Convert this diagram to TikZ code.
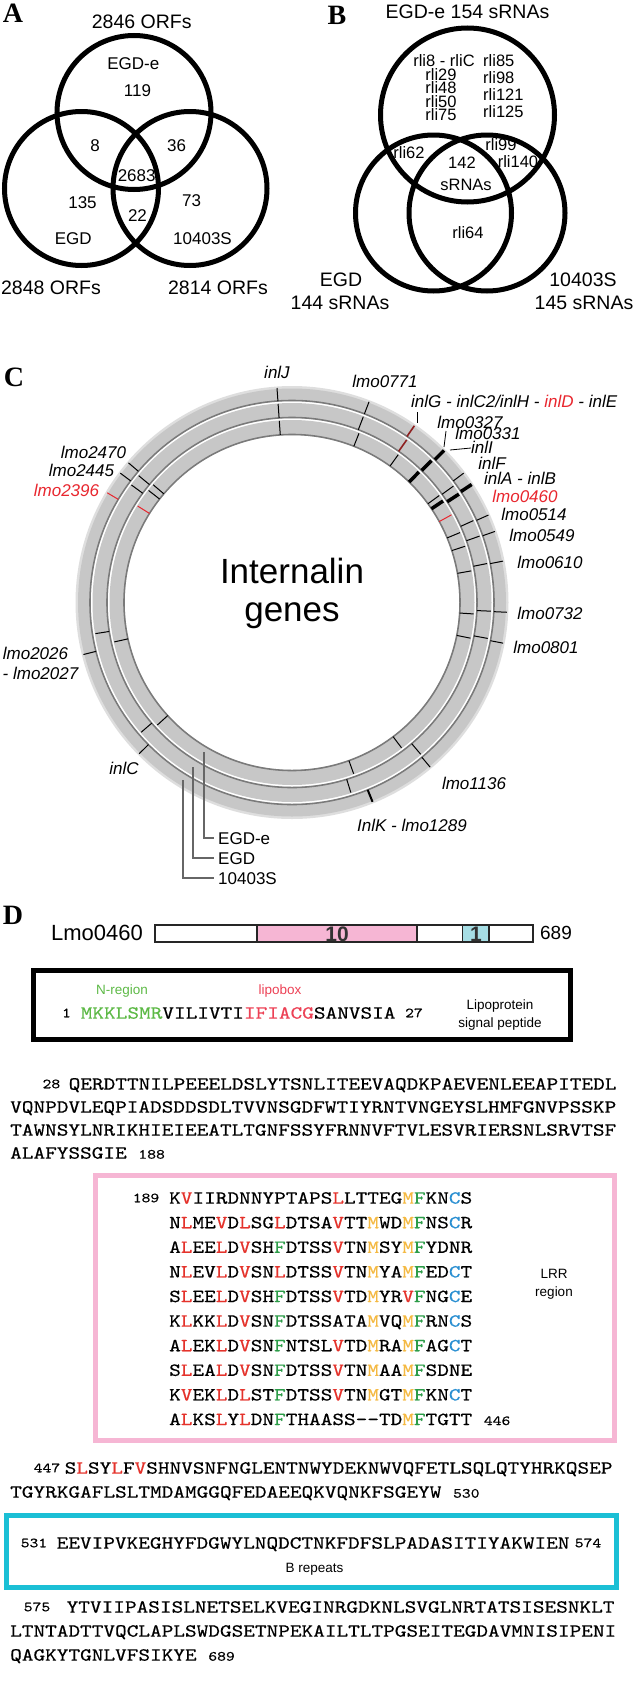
\documentclass[tikz,border=0pt]{standalone}
\usepackage{fontspec}
\setmainfont{Liberation Sans}
\newfontfamily\panelfont{Liberation Serif}
\newfontfamily\seqfont{lmmono10-regular.otf}[FakeStretch=1.2,FakeBold=0.5]
\usetikzlibrary{calc}

\definecolor{nreg}{HTML}{5DB946}
\definecolor{lipo}{HTML}{EC4155}
\definecolor{lrrred}{HTML}{E4322B}
\definecolor{lrryel}{HTML}{F4B942}
\definecolor{lrrgrn}{HTML}{2C9C48}
\definecolor{lrrblu}{HTML}{2A8FD1}
\definecolor{lrrpink}{HTML}{F6B6D4}
\definecolor{brcyan}{HTML}{1BBFD5}
\definecolor{barcyan}{HTML}{A6DEE5}
\definecolor{genered}{HTML}{E8262E}
\definecolor{tickred}{HTML}{8E2020}

\newcommand\smallnum{\fontsize{14}{16}\selectfont}
\newcommand\resR[1]{\textcolor{lrrred}{#1}}
\newcommand\resM[1]{\textcolor{lrryel}{#1}}
\newcommand\resF[1]{\textcolor{lrrgrn}{#1}}
\newcommand\resC[1]{\textcolor{lrrblu}{#1}}

\tikzset{
  venn/.style={line width=5pt},
  panel/.style={inner sep=0pt,font=\panelfont\bfseries\fontsize{28}{30}\selectfont},
  lab/.style={inner sep=0pt,font=\fontsize{17}{20}\selectfont,text height=12.2pt,text depth=0pt},
  rli/.style={inner sep=0pt,font=\fontsize{16.5}{18}\selectfont,text height=11.8pt,text depth=0pt},
  ttl/.style={inner sep=0pt,font=\fontsize{19.5}{22}\selectfont,text height=14pt,text depth=0pt},
  gene/.style={inner sep=0pt,font=\itshape\fontsize{17}{20}\selectfont,text height=12.2pt,text depth=0pt},
  note/.style={inner sep=0pt,font=\fontsize{13.5}{16}\selectfont,text height=9.7pt,text depth=0pt},
  seq/.style={inner sep=0pt,anchor=west,font=\seqfont\fontsize{18.5}{20}\selectfont,text height=11.3pt,text depth=0pt},
  num/.style={inner sep=0pt,font=\seqfont\smallnum,text height=8.5pt,text depth=0pt},
  ringhalo/.style={fill=black!13},
  ringband/.style={fill=black!22},
  ringline/.style={draw=black!52,line width=1.6pt},
  tick/.style={black,line width=1pt},
  thicktick/.style={black,line width=3.5pt},
  pointer/.style={black,line width=0.8pt},
  leader/.style={draw=black!60,line width=1.6pt,shorten >=4pt},
}

\begin{document}
\begin{tikzpicture}[x=1pt,y=-1pt]
\useasboundingbox (0,0) rectangle (632,1681);

% A: ORFs
\node[panel] (pA) at (13,13) {A};
\foreach \cx/\cy in {134/112.5,81.5/188.5,190/188.5} \draw[venn] (\cx,\cy) circle[radius=77];
\node[ttl] (orfTop) at (141.7,21) {2846 ORFs};
\node[ttl] (orfLeft) at (51,287) {2848 ORFs};
\node[ttl] (orfRight) at (218,287) {2814 ORFs};
\node[lab] (aEGDe) at (133.3,63) {EGD-e};
\node[lab] (a119) at (137.5,90) {119};
\node[lab] (a8) at (95,145) {8};
\node[lab] (a36) at (176.7,145) {36};
\node[lab] (a2683) at (136.7,175) {2683};
\node[lab] (a135) at (82.5,202.5) {135};
\node[lab] (a22) at (137.5,215) {22};
\node[lab] (a73) at (191.7,200) {73};
\node[lab] (aEGD) at (73.3,238) {EGD};
\node[lab] (a10403S) at (202.5,238) {10403S};

% B: sRNAs
\node[panel] (pB) at (337,15) {B};
\draw[venn] (467.5,115) circle[radius=87];
\foreach \cx in {433.5,487} \draw[venn] (\cx,213) circle[radius=78];
\node[ttl] (srnaTop) at (467.5,12) {EGD-e 154 sRNAs};
\node[ttl] (srnaLeftA) at (341,279) {EGD};
\node[ttl] (srnaLeftB) at (340,302) {144 sRNAs};
\node[ttl] (srnaRightA) at (583,279) {10403S};
\node[ttl] (srnaRightB) at (584,302) {145 sRNAs};
\node[rli] (b8C) at (444,61) {rli8 - rliC};
\foreach \t/\y [count=\k] in {rli29/74.5,rli48/88,rli50/101.5,rli75/115}
  \node[rli] (bl\k) at (441,\y) {\t};
\foreach \t/\y [count=\k] in {rli85/61,rli98/78,rli121/95,rli125/112}
  \node[rli,anchor=west] (br\k) at (483,\y) {\t};
\node[rli] (b62) at (409,153) {rli62};
\node[rli] (b99) at (501,145) {rli99};
\node[rli] (b140) at (518,162) {rli140};
\node[rli] (b142) at (462,163) {142};
\node[rli] (bsrna) at (466,185) {sRNAs};
\node[rli] (b64) at (468,233) {rli64};

% C: internalin genes on the three genomes
\node[panel] (pC) at (14,377) {C};
\begin{scope}[shift={(292,602.5)},yscale=-1]
\fill[ringhalo] (0,0) circle[radius=216.5];
\fill[ringband] (0,0) circle[radius=214];
\foreach \r in {202,185} {
  \draw[ringline] (0,0) circle[radius=\r];
  \fill[white] (0,0) circle[radius=\r-1];
  \fill[ringband] (0,0) circle[radius=\r-2.5];
}
\draw[ringline] (0,0) circle[radius=168];
\fill[white] (0,0) circle[radius=167];
% 10403S
\foreach \a in {94,69,37,24,19.3,11.1,-2.6,-10.9,-50,-135.3,-166,139.5,143}
  \draw[tick] (\a:202) -- (\a:215);
\foreach \a in {45,33.3} \draw[thicktick] (\a:202) -- (\a:215);
\draw[black,line width=2pt] (-68:202) -- (-68:215);
\draw[tickred,line width=1.6pt] (55.3:202) -- (55.3:215);
\draw[genered,line width=1pt] (149.3:202) -- (149.3:215);
% EGD
\foreach \a in {94,69,35.8,24.3,19.5,11.3,-2.5,-10.4,-49.7,-72.8,-139.3,-171,140.4,143.8}
  \draw[tick] (\a:185) -- (\a:199);
\foreach \a in {45.5,33} \draw[thicktick] (\a:185) -- (\a:199);
\draw[tickred,line width=1.6pt] (54.8:185) -- (54.8:199);
% EGD-e
\foreach \a in {94,68.4,54.3,36,22.6,18,10,-3.6,-11.3,-53,-70.2,-137.7,-167.5,139.7,142}
  \draw[tick] (\a:168) -- (\a:182);
\foreach \a in {45.8,33.9} \draw[thicktick] (\a:168) -- (\a:182);
\foreach \a in {28.8,148} \draw[genered,line width=1pt] (\a:168) -- (\a:182);
\end{scope}
\node[inner sep=0pt,font=\fontsize{35}{40}\selectfont,anchor=base] (intA) at (292,583) {Internalin};
\node[inner sep=0pt,font=\fontsize{35}{40}\selectfont,anchor=base] (intB) at (292,621) {genes};

\node[gene] (gInlJ) at (277,372) {inlJ};
\node[gene] (g0771) at (385,381) {lmo0771};
\node[gene,anchor=west] (gInlG) at (411,401) {inlG - inlC2/inlH - \textcolor{genered}{inlD} - inlE};
\node[gene] (g0327) at (470,422) {lmo0327};
\node[gene] (g0331) at (488,433) {lmo0331};
\node[gene] (gInlI) at (482,447) {inlI};
\node[gene] (gInlF) at (492,463) {inlF};
\node[gene] (gInlAB) at (520,478) {inlA - inlB};
\node[gene,text=genered] (g0460) at (525,496) {lmo0460};
\node[gene] (g0514) at (534,514) {lmo0514};
\node[gene] (g0549) at (542,535) {lmo0549};
\node[gene] (g0610) at (550,562) {lmo0610};
\node[gene] (g0732) at (550,613) {lmo0732};
\node[gene] (g0801) at (546,647) {lmo0801};
\node[gene] (g1136) at (474,783) {lmo1136};
\node[gene] (gInlK) at (412,825) {InlK - lmo1289};
\node[gene] (gInlC) at (124,768) {inlC};
\node[gene] (g2026) at (35.5,653) {lmo2026};
\node[gene] (g2027) at (40.5,673) {- lmo2027};
\node[gene] (g2470) at (93.5,452) {lmo2470};
\node[gene] (g2445) at (81.5,470) {lmo2445};
\node[gene,text=genered] (g2396) at (66.5,490) {lmo2396};

\coordinate (ptGa) at (417,412);
\coordinate (ptGb) at (417,423);
\draw[pointer] (ptGa) -- (ptGb);
\coordinate (pt27a) at (446,431);
\coordinate (pt27b) at (444,447);
\draw[pointer] (pt27a) -- (pt27b);
\coordinate (ptIa) at (471,448);
\coordinate (ptIb) at (450,450);
\draw[pointer] (ptIa) -- (ptIb);

\coordinate (tipEGDe) at (204,752);
\coordinate (tipEGD) at (193,767);
\coordinate (tip10403S) at (183,780);
\node[lab,anchor=west] (legEGDe) at (218,838) {EGD-e};
\node[lab,anchor=west] (legEGD) at (218,858) {EGD};
\node[lab,anchor=west] (leg10403S) at (218,878) {10403S};
\draw[leader] (tipEGDe) |- (legEGDe.west);
\draw[leader] (tipEGD) |- (legEGD.west);
\draw[leader] (tip10403S) |- (leg10403S.west);

% D: Lmo0460
\node[panel] (pD) at (13,915) {D};
\node[inner sep=0pt,font=\fontsize{22}{24}\selectfont] (lmo) at (97,933) {Lmo0460};
\fill[lrrpink] (257,925) rectangle (417,942);
\fill[barcyan] (462.5,925) rectangle (489,942);
\draw[line width=1.1pt,black!85] (155,925) rectangle (533,942);
\foreach \xd in {257,417,462.5,489} \draw[line width=1.1pt,black!85] (\xd,925) -- (\xd,942);
\node[inner sep=0pt,font=\bfseries\fontsize{21}{22}\selectfont,text=black!80] (lrrN) at (337,934) {10};
\node[inner sep=0pt,font=\bfseries\fontsize{21}{22}\selectfont,text=black!80] (brN) at (476,934) {1};
\node[inner sep=0pt,font=\fontsize{19}{22}\selectfont] (lenD) at (556,933) {689};

% signal peptide
\draw[line width=5pt] (33.5,970.5) rectangle (570.5,1039.5);
\node[note,text=nreg] (nreg) at (122,990) {N-region};
\node[note,text=lipo] (lbox) at (280,990) {lipobox};
\node[num] (s1) at (66.5,1013) {1};
\node[seq] (sig) at (80.6,1013) {\textcolor{nreg}{MKKLSMR}VILIVTI\textcolor{lipo}{IFIACG}SANVSIA};
\node[num] (s27) at (414,1013) {27};
\node[note] (lpA) at (500,1005) {Lipoprotein};
\node[note] (lpB) at (500,1023) {signal peptide};

% residues 28-188
\node[num] (n28) at (51.4,1084) {28};
\node[seq] (m1) at (68.5,1084) {QERDTTNILPEEELDSLYTSNLITEEVAQDKPAEVENLEEAPITEDL};
\node[seq] (m2) at (10,1107) {VQNPDVLEQPIADSDDSDLTVVNSGDFWTIYRNTVNGEYSLHMFGNVPSSKP};
\node[seq] (m3) at (10,1130) {TAWNSYLNRIKHIEIEEATLTGNFSSYFRNNVFTVLESVRIERSNLSRVTSF};
\node[seq] (m4) at (10,1153) {ALAFYSSGIE {\smallnum 188}};

% LRR region
\draw[lrrpink,line width=5pt] (95.5,1175.5) rectangle (614.5,1440.5);
\node[num] (n189) at (146,1198) {189};
\foreach \txt [count=\k] in {
  {K\resR{V}IIRDNNYPTAPS\resR{L}LTTEG\resM{M}\resF{F}KN\resC{C}S},
  {N\resR{L}ME\resR{V}D\resR{L}SG\resR{L}DTSA\resR{V}TT\resM{M}WD\resM{M}\resF{F}NS\resC{C}R},
  {A\resR{L}EE\resR{L}D\resR{V}SH\resF{F}DTSS\resR{V}TN\resM{M}SY\resM{M}\resF{F}YDNR},
  {N\resR{L}EV\resR{L}D\resR{V}SN\resR{L}DTSS\resR{V}TN\resM{M}YA\resM{M}\resF{F}ED\resC{C}T},
  {S\resR{L}EE\resR{L}D\resR{V}SH\resF{F}DTSS\resR{V}TD\resM{M}YR\resR{V}\resF{F}NG\resC{C}E},
  {K\resR{L}KK\resR{L}D\resR{V}SN\resF{F}DTSSATA\resM{M}VQ\resM{M}\resF{F}RN\resC{C}S},
  {A\resR{L}EK\resR{L}D\resR{V}SN\resF{F}NTSL\resR{V}TD\resM{M}RA\resM{M}\resF{F}AG\resC{C}T},
  {S\resR{L}EA\resR{L}D\resR{V}SN\resF{F}DTSS\resR{V}TN\resM{M}AA\resM{M}\resF{F}SDNE},
  {K\resR{V}EK\resR{L}D\resR{L}ST\resF{F}DTSS\resR{V}TN\resM{M}GT\resM{M}\resF{F}KN\resC{C}T},
  {A\resR{L}KS\resR{L}Y\resR{L}DN\resF{F}THAASS-{}-TD\resM{M}\resF{F}TGTT {\smallnum 446}}}
  \node[seq] (lrr\k) at (169,{1198+(\k-1)*24.6}) {\txt};
\node[note] (lrrA) at (554,1274) {LRR};
\node[note] (lrrB) at (554,1292) {region};

% residues 447-530
\node[num] (n447) at (47,1468) {447};
\node[seq] (m5) at (64.5,1468) {S\resR{L}SY\resR{L}F\resR{V}SHNVSNFNGLENTNWYDEKNWVQFETLSQLQTYHRKQSEP};
\node[seq] (m6) at (10,1492) {TGYRKGAFLSLTMDAMGGQFEDAEEQKVQNKFSGEYW {\smallnum 530}};

% B repeat
\draw[brcyan,line width=5pt] (6.5,1515.5) rectangle (616.5,1587.5);
\node[num] (n531) at (34,1543) {531};
\node[seq] (brep) at (56.5,1543) {EEVIPVKEGHYFDGWYLNQDCTNKFDFSLPADASITIYAKWIEN};
\node[num] (n574) at (588,1543) {574};
\node[note] (brepL) at (314.5,1568) {B repeats};

% residues 575-689
\node[num] (n575) at (37,1607) {575};
\node[seq] (m7) at (66.5,1607) {YTVIIPASISLNETSELKVEGINRGDKNLSVGLNRTATSISESNKLT};
\node[seq] (m8) at (10,1631) {LTNTADTTVQCLAPLSWDGSETNPEKAILTLTPGSEITEGDAVMNISIPENI};
\node[seq] (m9) at (10,1655) {QAGKYTGNLVFSIKYE {\smallnum 689}};
\end{tikzpicture}
\end{document}
